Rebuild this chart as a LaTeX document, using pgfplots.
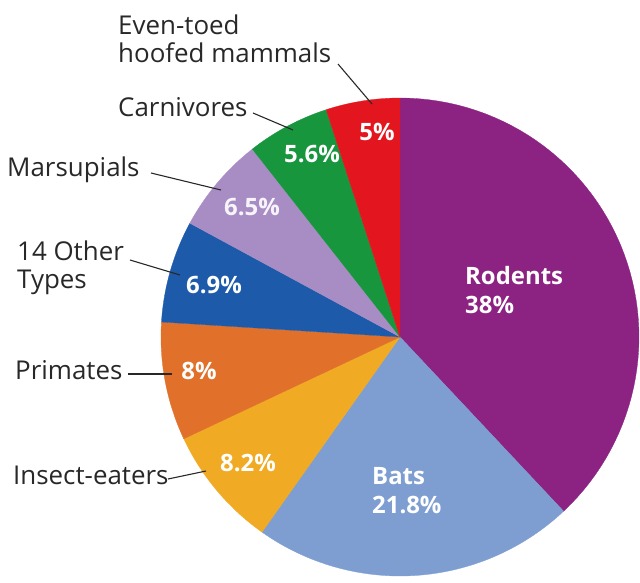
\documentclass[border=0pt]{standalone}
\usepackage{pgfplots}
\usepackage{pgfplotstable}
\pgfplotsset{compat=1.18}
\usepackage{fontspec}
\setmainfont{Open Sans}
\definecolor{cRod}{RGB}{140,34,130}
\definecolor{cBat}{RGB}{126,158,210}
\definecolor{cIns}{RGB}{240,170,35}
\definecolor{cPri}{RGB}{224,112,42}
\definecolor{cOth}{RGB}{30,90,170}
\definecolor{cMar}{RGB}{168,141,197}
\definecolor{cCar}{RGB}{24,150,62}
\definecolor{cEve}{RGB}{227,22,32}
\definecolor{txt}{RGB}{40,40,40}
\pgfplotstableread{
pct color
38 cRod
21.8 cBat
8.2 cIns
8 cPri
6.9 cOth
6.5 cMar
5.6 cCar
5 cEve
}\pietable
\def\cx{400}\def\cy{337}\def\R{239}
\begin{document}
\begin{tikzpicture}
\begin{axis}[scale only axis, width=640bp, height=582bp, hide axis,
  xmin=0, xmax=640, ymin=0, ymax=582, y dir=reverse, clip=false]
\pgfplotstablegetrowsof{\pietable}
\pgfmathtruncatemacro\N{\pgfplotsretval-1}
\gdef\cum{0}
\pgfplotsforeachungrouped \i in {0,...,\N}{%
  \pgfplotstablegetelem{\i}{pct}\of\pietable \let\p\pgfplotsretval
  \pgfplotstablegetelem{\i}{color}\of\pietable \let\c\pgfplotsretval
  \pgfmathsetmacro\aS{90-3.6*\cum}%
  \pgfmathsetmacro\aE{90-3.6*(\cum+\p)}%
  \pgfmathsetmacro\newcum{\cum+\p}%
  \global\let\cum\newcum
  \edef\tmp{\noexpand\addplot[fill=\c, draw=\c, line width=0.3pt, domain=\aE:\aS, samples=60]
    ({\cx+\R*cos(x)},{\cy-\R*sin(x)}) -- (axis cs:\cx,\cy) -- cycle;}%
  \tmp
}
% outside labels
\begin{scope}[every node/.style={text=txt, inner sep=0pt, font=\fontsize{26}{28}\selectfont}]
\node[anchor=west, align=left] at (axis cs:118,39) {Even-toed\\hoofed mammals};
\node[anchor=west] at (axis cs:118,107) {Carnivores};
\node[anchor=west] at (axis cs:7,170) {Marsupials};
\node[anchor=west, align=left] at (axis cs:17,268) {14 Other\\Types};
\node[anchor=west] at (axis cs:15,370) {Primates};
\node[anchor=west] at (axis cs:13,475) {Insect-eaters};
\end{scope}
\begin{scope}[txt, line width=1.1pt]
\draw (axis cs:338,64) -- (axis cs:372,104);
\draw (axis cs:253,113) -- (axis cs:293,130);
\draw (axis cs:151,173) -- (axis cs:221,190);
\draw (axis cs:130,260) -- (axis cs:180,275);
\draw (axis cs:128,374) -- (axis cs:172,374);
\draw (axis cs:168,479) -- (axis cs:206,471);
\end{scope}
% inside labels
\begin{scope}[every node/.style={text=white, inner sep=0pt, font=\bfseries\fontsize{24}{29}\selectfont}]
\node at (axis cs:377,132) {5\%};
\node at (axis cs:312,154) {5.6\%};
\node[text=white!90!cMar] at (axis cs:252,207) {6.5\%};
\node at (axis cs:214,285) {6.9\%};
\node at (axis cs:199,371) {8\%};
\node at (axis cs:248,463) {8.2\%};
\node[anchor=west, align=left] at (axis cs:465,290) {Rodents\\38\%};
\node[anchor=west, align=left] at (axis cs:372,491) {Bats\\21.8\%};
\end{scope}
\end{axis}
\pgfresetboundingbox
\path (current axis.south west) rectangle (current axis.north east);
\end{tikzpicture}
\end{document}
